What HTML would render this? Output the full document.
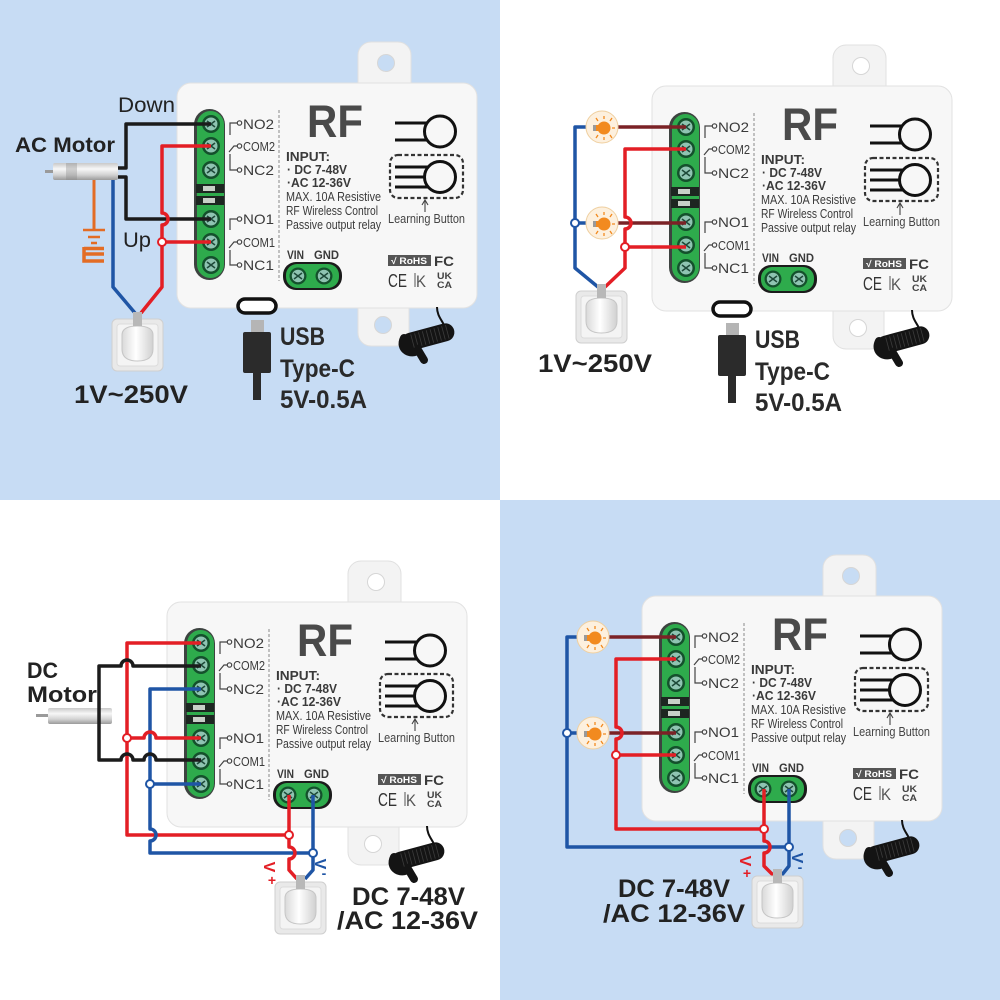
<!DOCTYPE html>
<html><head><meta charset="utf-8"><style>
html,body{margin:0;padding:0;background:#fff}
svg{display:block}
text{font-family:"Liberation Sans",sans-serif}
</style></head><body>
<svg width="1000" height="1000" viewBox="0 0 1000 1000" xmlns="http://www.w3.org/2000/svg">
<defs>
<linearGradient id="mg" x1="0" y1="0" x2="0" y2="1">
<stop offset="0" stop-color="#c9c9c9"/><stop offset=".35" stop-color="#f7f7f7"/><stop offset=".7" stop-color="#d2d2d2"/><stop offset="1" stop-color="#9a9a9a"/>
</linearGradient>
<linearGradient id="pg" x1="0" y1="0" x2="1" y2="0">
<stop offset="0" stop-color="#d9d9d9"/><stop offset=".45" stop-color="#ffffff"/><stop offset="1" stop-color="#d0d0d0"/>
</linearGradient>
</defs>
<rect x="0" y="0" width="500" height="500" fill="#c7dcf4"/>
<rect x="500" y="0" width="500" height="500" fill="#ffffff"/>
<rect x="0" y="500" width="500" height="500" fill="#ffffff"/>
<rect x="500" y="500" width="500" height="500" fill="#c7dcf4"/>

<!-- ============ MODULE Q1 ============ -->
<g color="#c7dcf4">
<rect x="358" y="42" width="53" height="60" rx="13" fill="#f3f3f3" stroke="#e0e0e0"/>
<circle cx="386" cy="63" r="8.5" fill="currentColor" stroke="#d6d6d6"/>
<rect x="358" y="290" width="51" height="56" rx="13" fill="#f3f3f3" stroke="#e0e0e0"/>
<circle cx="383" cy="325" r="8.5" fill="currentColor" stroke="#d6d6d6"/>
<rect x="177" y="83" width="300" height="225" rx="14" fill="#f7f7f7" stroke="#e2e2e2"/>
<rect x="194" y="109" width="31" height="171" rx="15.5" fill="#3d4340"/>
<rect x="197" y="111" width="27" height="167" rx="13.5" fill="#2eab4c"/>
<g transform="translate(211,124)"><circle r="9" fill="#14502c"/><circle r="6.5" fill="#8fc4b2"/><path d="M-4,-3 L4,3 M-4,3 L4,-3" stroke="#1f4a3a" stroke-width="1.6"/></g>
<g transform="translate(211,146)"><circle r="9" fill="#14502c"/><circle r="6.5" fill="#8fc4b2"/><path d="M-4,-3 L4,3 M-4,3 L4,-3" stroke="#1f4a3a" stroke-width="1.6"/></g>
<g transform="translate(211,170)"><circle r="9" fill="#14502c"/><circle r="6.5" fill="#8fc4b2"/><path d="M-4,-3 L4,3 M-4,3 L4,-3" stroke="#1f4a3a" stroke-width="1.6"/></g>
<g transform="translate(211,219)"><circle r="9" fill="#14502c"/><circle r="6.5" fill="#8fc4b2"/><path d="M-4,-3 L4,3 M-4,3 L4,-3" stroke="#1f4a3a" stroke-width="1.6"/></g>
<g transform="translate(211,242)"><circle r="9" fill="#14502c"/><circle r="6.5" fill="#8fc4b2"/><path d="M-4,-3 L4,3 M-4,3 L4,-3" stroke="#1f4a3a" stroke-width="1.6"/></g>
<g transform="translate(211,265)"><circle r="9" fill="#14502c"/><circle r="6.5" fill="#8fc4b2"/><path d="M-4,-3 L4,3 M-4,3 L4,-3" stroke="#1f4a3a" stroke-width="1.6"/></g>
<rect x="196" y="184" width="28" height="9" fill="#1d2621"/>
<rect x="196" y="196" width="28" height="9" fill="#1d2621"/>
<rect x="203" y="186" width="12" height="5" fill="#c8d0c8"/>
<rect x="203" y="198" width="12" height="5" fill="#c8d0c8"/>
<g stroke="#444" stroke-width="1.2" fill="none">
<path d="M230,135 V123 H237"/><circle cx="239.5" cy="123" r="2.2"/>
<path d="M237.3,146 H234 L229,152"/><circle cx="239.5" cy="146" r="2.2"/>
<path d="M230,154 V170 H237"/><circle cx="239.5" cy="170" r="2.2"/>
<path d="M230,230 V219 H237"/><circle cx="239.5" cy="219" r="2.2"/>
<path d="M237.3,242 H234 L229,248"/><circle cx="239.5" cy="242" r="2.2"/>
<path d="M230,250 V265 H237"/><circle cx="239.5" cy="265" r="2.2"/>
</g>
<g fill="#3a3a3a">
<text x="243" y="129" font-size="14" textLength="31" lengthAdjust="spacingAndGlyphs">NO2</text>
<text x="243" y="151" font-size="13" textLength="32" lengthAdjust="spacingAndGlyphs">COM2</text>
<text x="243" y="175" font-size="14" textLength="31" lengthAdjust="spacingAndGlyphs">NC2</text>
<text x="243" y="224" font-size="14" textLength="31" lengthAdjust="spacingAndGlyphs">NO1</text>
<text x="243" y="247" font-size="13" textLength="32" lengthAdjust="spacingAndGlyphs">COM1</text>
<text x="243" y="270" font-size="14" textLength="31" lengthAdjust="spacingAndGlyphs">NC1</text>
</g>
<path d="M279,110 V281" stroke="#888" stroke-width="1" stroke-dasharray="3 2"/>
<text x="307" y="137" font-size="45" font-weight="bold" fill="#4a4a4a" textLength="56" lengthAdjust="spacingAndGlyphs">RF</text>
<g fill="#3a3a3a">
<text x="286" y="161" font-size="13" font-weight="bold" textLength="44" lengthAdjust="spacingAndGlyphs">INPUT:</text>
<text x="287" y="174" font-size="13" font-weight="bold" textLength="60" lengthAdjust="spacingAndGlyphs">· DC 7-48V</text>
<text x="287" y="187" font-size="13" font-weight="bold" textLength="64" lengthAdjust="spacingAndGlyphs">·AC 12-36V</text>
<text x="286" y="201" font-size="12.5" textLength="95" lengthAdjust="spacingAndGlyphs">MAX. 10A  Resistive</text>
<text x="286" y="215" font-size="12.5" textLength="92" lengthAdjust="spacingAndGlyphs">RF Wireless Control</text>
<text x="286" y="229" font-size="12.5" textLength="95" lengthAdjust="spacingAndGlyphs">Passive output relay</text>
<text x="287" y="259" font-size="12" font-weight="bold" textLength="17" lengthAdjust="spacingAndGlyphs">VIN</text>
<text x="314" y="259" font-size="12" font-weight="bold" textLength="25" lengthAdjust="spacingAndGlyphs">GND</text>
</g>
<rect x="283" y="262" width="59" height="28" rx="13" fill="#1b1b1b"/>
<rect x="286" y="264" width="53" height="24" rx="11" fill="#2eab4c"/>
<g transform="translate(298,276)"><circle r="8.5" fill="#14502c"/><circle r="6.2" fill="#8fc4b2"/><path d="M-4,-3 L4,3 M-4,3 L4,-3" stroke="#1f4a3a" stroke-width="1.5"/></g>
<g transform="translate(324,276)"><circle r="8.5" fill="#14502c"/><circle r="6.2" fill="#8fc4b2"/><path d="M-4,-3 L4,3 M-4,3 L4,-3" stroke="#1f4a3a" stroke-width="1.5"/></g>
<g stroke="#111" stroke-width="3" fill="none">
<path d="M395,123 H427.5 M395,140 H427.5"/><circle cx="440" cy="131.5" r="15.5"/>
<path d="M395,167 H427.5 M395,177 H424.5 M395,187 H427.5"/><circle cx="440" cy="177" r="15.5"/>
</g>
<rect x="390" y="155" width="73" height="43" rx="8" fill="none" stroke="#333" stroke-width="2.2" stroke-dasharray="4 2.5"/>
<path d="M425,201 V212 M422,205 L425,200 L428,205" stroke="#444" stroke-width="1.1" fill="none"/>
<text x="388" y="223" font-size="12.5" fill="#444" textLength="77" lengthAdjust="spacingAndGlyphs">Learning Button</text>
<rect x="388" y="255" width="43" height="11" fill="#555"/>
<text x="391" y="264" font-size="9" font-weight="bold" fill="#fff" textLength="36" lengthAdjust="spacingAndGlyphs">√ RoHS</text>
<text x="434" y="266" font-size="14" font-weight="bold" fill="#3a3a3a" textLength="20" lengthAdjust="spacingAndGlyphs">FC</text>
<text x="388" y="287" font-size="18" fill="#333" textLength="19" lengthAdjust="spacingAndGlyphs">CE</text>
<text x="416" y="287" font-size="17" fill="#555" textLength="10" lengthAdjust="spacingAndGlyphs">K</text>
<path d="M415,273 V287" stroke="#555" stroke-width="1"/>
<text x="437" y="279" font-size="9.5" font-weight="bold" fill="#444" textLength="15" lengthAdjust="spacingAndGlyphs">UK</text>
<text x="437" y="288" font-size="9.5" font-weight="bold" fill="#444" textLength="15" lengthAdjust="spacingAndGlyphs">CA</text>
<path d="M437,307 C437,315 441,319 444,325" stroke="#111" stroke-width="2" fill="none"/>
<g transform="rotate(-15 428 337)">
<rect x="401" y="328" width="54" height="18" rx="9" fill="#141414"/>
<path d="M412,330 v14 M416,330 v14 M420,330 v14 M424,330 v14 M428,330 v14 M432,330 v14 M436,330 v14 M440,330 v14 M444,330 v14 M448,330 v14" stroke="#3c3c3c" stroke-width="0.8"/>
</g>
<path d="M404,338 C398,350 412,356 418,350 L424,360" stroke="#141414" stroke-width="8" fill="none" stroke-linecap="round"/>
</g>

<!-- ============ MODULE Q2 ============ -->
<g color="#ffffff" transform="translate(475,3)">
<rect x="358" y="42" width="53" height="60" rx="13" fill="#f3f3f3" stroke="#e0e0e0"/>
<circle cx="386" cy="63" r="8.5" fill="currentColor" stroke="#d6d6d6"/>
<rect x="358" y="290" width="51" height="56" rx="13" fill="#f3f3f3" stroke="#e0e0e0"/>
<circle cx="383" cy="325" r="8.5" fill="currentColor" stroke="#d6d6d6"/>
<rect x="177" y="83" width="300" height="225" rx="14" fill="#f7f7f7" stroke="#e2e2e2"/>
<rect x="194" y="109" width="31" height="171" rx="15.5" fill="#3d4340"/>
<rect x="197" y="111" width="27" height="167" rx="13.5" fill="#2eab4c"/>
<g transform="translate(211,124)"><circle r="9" fill="#14502c"/><circle r="6.5" fill="#8fc4b2"/><path d="M-4,-3 L4,3 M-4,3 L4,-3" stroke="#1f4a3a" stroke-width="1.6"/></g>
<g transform="translate(211,146)"><circle r="9" fill="#14502c"/><circle r="6.5" fill="#8fc4b2"/><path d="M-4,-3 L4,3 M-4,3 L4,-3" stroke="#1f4a3a" stroke-width="1.6"/></g>
<g transform="translate(211,170)"><circle r="9" fill="#14502c"/><circle r="6.5" fill="#8fc4b2"/><path d="M-4,-3 L4,3 M-4,3 L4,-3" stroke="#1f4a3a" stroke-width="1.6"/></g>
<g transform="translate(211,219)"><circle r="9" fill="#14502c"/><circle r="6.5" fill="#8fc4b2"/><path d="M-4,-3 L4,3 M-4,3 L4,-3" stroke="#1f4a3a" stroke-width="1.6"/></g>
<g transform="translate(211,242)"><circle r="9" fill="#14502c"/><circle r="6.5" fill="#8fc4b2"/><path d="M-4,-3 L4,3 M-4,3 L4,-3" stroke="#1f4a3a" stroke-width="1.6"/></g>
<g transform="translate(211,265)"><circle r="9" fill="#14502c"/><circle r="6.5" fill="#8fc4b2"/><path d="M-4,-3 L4,3 M-4,3 L4,-3" stroke="#1f4a3a" stroke-width="1.6"/></g>
<rect x="196" y="184" width="28" height="9" fill="#1d2621"/>
<rect x="196" y="196" width="28" height="9" fill="#1d2621"/>
<rect x="203" y="186" width="12" height="5" fill="#c8d0c8"/>
<rect x="203" y="198" width="12" height="5" fill="#c8d0c8"/>
<g stroke="#444" stroke-width="1.2" fill="none">
<path d="M230,135 V123 H237"/><circle cx="239.5" cy="123" r="2.2"/>
<path d="M237.3,146 H234 L229,152"/><circle cx="239.5" cy="146" r="2.2"/>
<path d="M230,154 V170 H237"/><circle cx="239.5" cy="170" r="2.2"/>
<path d="M230,230 V219 H237"/><circle cx="239.5" cy="219" r="2.2"/>
<path d="M237.3,242 H234 L229,248"/><circle cx="239.5" cy="242" r="2.2"/>
<path d="M230,250 V265 H237"/><circle cx="239.5" cy="265" r="2.2"/>
</g>
<g fill="#3a3a3a">
<text x="243" y="129" font-size="14" textLength="31" lengthAdjust="spacingAndGlyphs">NO2</text>
<text x="243" y="151" font-size="13" textLength="32" lengthAdjust="spacingAndGlyphs">COM2</text>
<text x="243" y="175" font-size="14" textLength="31" lengthAdjust="spacingAndGlyphs">NC2</text>
<text x="243" y="224" font-size="14" textLength="31" lengthAdjust="spacingAndGlyphs">NO1</text>
<text x="243" y="247" font-size="13" textLength="32" lengthAdjust="spacingAndGlyphs">COM1</text>
<text x="243" y="270" font-size="14" textLength="31" lengthAdjust="spacingAndGlyphs">NC1</text>
</g>
<path d="M279,110 V281" stroke="#888" stroke-width="1" stroke-dasharray="3 2"/>
<text x="307" y="137" font-size="45" font-weight="bold" fill="#4a4a4a" textLength="56" lengthAdjust="spacingAndGlyphs">RF</text>
<g fill="#3a3a3a">
<text x="286" y="161" font-size="13" font-weight="bold" textLength="44" lengthAdjust="spacingAndGlyphs">INPUT:</text>
<text x="287" y="174" font-size="13" font-weight="bold" textLength="60" lengthAdjust="spacingAndGlyphs">· DC 7-48V</text>
<text x="287" y="187" font-size="13" font-weight="bold" textLength="64" lengthAdjust="spacingAndGlyphs">·AC 12-36V</text>
<text x="286" y="201" font-size="12.5" textLength="95" lengthAdjust="spacingAndGlyphs">MAX. 10A  Resistive</text>
<text x="286" y="215" font-size="12.5" textLength="92" lengthAdjust="spacingAndGlyphs">RF Wireless Control</text>
<text x="286" y="229" font-size="12.5" textLength="95" lengthAdjust="spacingAndGlyphs">Passive output relay</text>
<text x="287" y="259" font-size="12" font-weight="bold" textLength="17" lengthAdjust="spacingAndGlyphs">VIN</text>
<text x="314" y="259" font-size="12" font-weight="bold" textLength="25" lengthAdjust="spacingAndGlyphs">GND</text>
</g>
<rect x="283" y="262" width="59" height="28" rx="13" fill="#1b1b1b"/>
<rect x="286" y="264" width="53" height="24" rx="11" fill="#2eab4c"/>
<g transform="translate(298,276)"><circle r="8.5" fill="#14502c"/><circle r="6.2" fill="#8fc4b2"/><path d="M-4,-3 L4,3 M-4,3 L4,-3" stroke="#1f4a3a" stroke-width="1.5"/></g>
<g transform="translate(324,276)"><circle r="8.5" fill="#14502c"/><circle r="6.2" fill="#8fc4b2"/><path d="M-4,-3 L4,3 M-4,3 L4,-3" stroke="#1f4a3a" stroke-width="1.5"/></g>
<g stroke="#111" stroke-width="3" fill="none">
<path d="M395,123 H427.5 M395,140 H427.5"/><circle cx="440" cy="131.5" r="15.5"/>
<path d="M395,167 H427.5 M395,177 H424.5 M395,187 H427.5"/><circle cx="440" cy="177" r="15.5"/>
</g>
<rect x="390" y="155" width="73" height="43" rx="8" fill="none" stroke="#333" stroke-width="2.2" stroke-dasharray="4 2.5"/>
<path d="M425,201 V212 M422,205 L425,200 L428,205" stroke="#444" stroke-width="1.1" fill="none"/>
<text x="388" y="223" font-size="12.5" fill="#444" textLength="77" lengthAdjust="spacingAndGlyphs">Learning Button</text>
<rect x="388" y="255" width="43" height="11" fill="#555"/>
<text x="391" y="264" font-size="9" font-weight="bold" fill="#fff" textLength="36" lengthAdjust="spacingAndGlyphs">√ RoHS</text>
<text x="434" y="266" font-size="14" font-weight="bold" fill="#3a3a3a" textLength="20" lengthAdjust="spacingAndGlyphs">FC</text>
<text x="388" y="287" font-size="18" fill="#333" textLength="19" lengthAdjust="spacingAndGlyphs">CE</text>
<text x="416" y="287" font-size="17" fill="#555" textLength="10" lengthAdjust="spacingAndGlyphs">K</text>
<path d="M415,273 V287" stroke="#555" stroke-width="1"/>
<text x="437" y="279" font-size="9.5" font-weight="bold" fill="#444" textLength="15" lengthAdjust="spacingAndGlyphs">UK</text>
<text x="437" y="288" font-size="9.5" font-weight="bold" fill="#444" textLength="15" lengthAdjust="spacingAndGlyphs">CA</text>
<path d="M437,307 C437,315 441,319 444,325" stroke="#111" stroke-width="2" fill="none"/>
<g transform="rotate(-15 428 337)">
<rect x="401" y="328" width="54" height="18" rx="9" fill="#141414"/>
<path d="M412,330 v14 M416,330 v14 M420,330 v14 M424,330 v14 M428,330 v14 M432,330 v14 M436,330 v14 M440,330 v14 M444,330 v14 M448,330 v14" stroke="#3c3c3c" stroke-width="0.8"/>
</g>
<path d="M404,338 C398,350 412,356 418,350 L424,360" stroke="#141414" stroke-width="8" fill="none" stroke-linecap="round"/>
</g>

<!-- ============ MODULE Q3 ============ -->
<g color="#ffffff" transform="translate(-10,519)">
<rect x="358" y="42" width="53" height="60" rx="13" fill="#f3f3f3" stroke="#e0e0e0"/>
<circle cx="386" cy="63" r="8.5" fill="currentColor" stroke="#d6d6d6"/>
<rect x="358" y="290" width="51" height="56" rx="13" fill="#f3f3f3" stroke="#e0e0e0"/>
<circle cx="383" cy="325" r="8.5" fill="currentColor" stroke="#d6d6d6"/>
<rect x="177" y="83" width="300" height="225" rx="14" fill="#f7f7f7" stroke="#e2e2e2"/>
<rect x="194" y="109" width="31" height="171" rx="15.5" fill="#3d4340"/>
<rect x="197" y="111" width="27" height="167" rx="13.5" fill="#2eab4c"/>
<g transform="translate(211,124)"><circle r="9" fill="#14502c"/><circle r="6.5" fill="#8fc4b2"/><path d="M-4,-3 L4,3 M-4,3 L4,-3" stroke="#1f4a3a" stroke-width="1.6"/></g>
<g transform="translate(211,146)"><circle r="9" fill="#14502c"/><circle r="6.5" fill="#8fc4b2"/><path d="M-4,-3 L4,3 M-4,3 L4,-3" stroke="#1f4a3a" stroke-width="1.6"/></g>
<g transform="translate(211,170)"><circle r="9" fill="#14502c"/><circle r="6.5" fill="#8fc4b2"/><path d="M-4,-3 L4,3 M-4,3 L4,-3" stroke="#1f4a3a" stroke-width="1.6"/></g>
<g transform="translate(211,219)"><circle r="9" fill="#14502c"/><circle r="6.5" fill="#8fc4b2"/><path d="M-4,-3 L4,3 M-4,3 L4,-3" stroke="#1f4a3a" stroke-width="1.6"/></g>
<g transform="translate(211,242)"><circle r="9" fill="#14502c"/><circle r="6.5" fill="#8fc4b2"/><path d="M-4,-3 L4,3 M-4,3 L4,-3" stroke="#1f4a3a" stroke-width="1.6"/></g>
<g transform="translate(211,265)"><circle r="9" fill="#14502c"/><circle r="6.5" fill="#8fc4b2"/><path d="M-4,-3 L4,3 M-4,3 L4,-3" stroke="#1f4a3a" stroke-width="1.6"/></g>
<rect x="196" y="184" width="28" height="9" fill="#1d2621"/>
<rect x="196" y="196" width="28" height="9" fill="#1d2621"/>
<rect x="203" y="186" width="12" height="5" fill="#c8d0c8"/>
<rect x="203" y="198" width="12" height="5" fill="#c8d0c8"/>
<g stroke="#444" stroke-width="1.2" fill="none">
<path d="M230,135 V123 H237"/><circle cx="239.5" cy="123" r="2.2"/>
<path d="M237.3,146 H234 L229,152"/><circle cx="239.5" cy="146" r="2.2"/>
<path d="M230,154 V170 H237"/><circle cx="239.5" cy="170" r="2.2"/>
<path d="M230,230 V219 H237"/><circle cx="239.5" cy="219" r="2.2"/>
<path d="M237.3,242 H234 L229,248"/><circle cx="239.5" cy="242" r="2.2"/>
<path d="M230,250 V265 H237"/><circle cx="239.5" cy="265" r="2.2"/>
</g>
<g fill="#3a3a3a">
<text x="243" y="129" font-size="14" textLength="31" lengthAdjust="spacingAndGlyphs">NO2</text>
<text x="243" y="151" font-size="13" textLength="32" lengthAdjust="spacingAndGlyphs">COM2</text>
<text x="243" y="175" font-size="14" textLength="31" lengthAdjust="spacingAndGlyphs">NC2</text>
<text x="243" y="224" font-size="14" textLength="31" lengthAdjust="spacingAndGlyphs">NO1</text>
<text x="243" y="247" font-size="13" textLength="32" lengthAdjust="spacingAndGlyphs">COM1</text>
<text x="243" y="270" font-size="14" textLength="31" lengthAdjust="spacingAndGlyphs">NC1</text>
</g>
<path d="M279,110 V281" stroke="#888" stroke-width="1" stroke-dasharray="3 2"/>
<text x="307" y="137" font-size="45" font-weight="bold" fill="#4a4a4a" textLength="56" lengthAdjust="spacingAndGlyphs">RF</text>
<g fill="#3a3a3a">
<text x="286" y="161" font-size="13" font-weight="bold" textLength="44" lengthAdjust="spacingAndGlyphs">INPUT:</text>
<text x="287" y="174" font-size="13" font-weight="bold" textLength="60" lengthAdjust="spacingAndGlyphs">· DC 7-48V</text>
<text x="287" y="187" font-size="13" font-weight="bold" textLength="64" lengthAdjust="spacingAndGlyphs">·AC 12-36V</text>
<text x="286" y="201" font-size="12.5" textLength="95" lengthAdjust="spacingAndGlyphs">MAX. 10A  Resistive</text>
<text x="286" y="215" font-size="12.5" textLength="92" lengthAdjust="spacingAndGlyphs">RF Wireless Control</text>
<text x="286" y="229" font-size="12.5" textLength="95" lengthAdjust="spacingAndGlyphs">Passive output relay</text>
<text x="287" y="259" font-size="12" font-weight="bold" textLength="17" lengthAdjust="spacingAndGlyphs">VIN</text>
<text x="314" y="259" font-size="12" font-weight="bold" textLength="25" lengthAdjust="spacingAndGlyphs">GND</text>
</g>
<rect x="283" y="262" width="59" height="28" rx="13" fill="#1b1b1b"/>
<rect x="286" y="264" width="53" height="24" rx="11" fill="#2eab4c"/>
<g transform="translate(298,276)"><circle r="8.5" fill="#14502c"/><circle r="6.2" fill="#8fc4b2"/><path d="M-4,-3 L4,3 M-4,3 L4,-3" stroke="#1f4a3a" stroke-width="1.5"/></g>
<g transform="translate(324,276)"><circle r="8.5" fill="#14502c"/><circle r="6.2" fill="#8fc4b2"/><path d="M-4,-3 L4,3 M-4,3 L4,-3" stroke="#1f4a3a" stroke-width="1.5"/></g>
<g stroke="#111" stroke-width="3" fill="none">
<path d="M395,123 H427.5 M395,140 H427.5"/><circle cx="440" cy="131.5" r="15.5"/>
<path d="M395,167 H427.5 M395,177 H424.5 M395,187 H427.5"/><circle cx="440" cy="177" r="15.5"/>
</g>
<rect x="390" y="155" width="73" height="43" rx="8" fill="none" stroke="#333" stroke-width="2.2" stroke-dasharray="4 2.5"/>
<path d="M425,201 V212 M422,205 L425,200 L428,205" stroke="#444" stroke-width="1.1" fill="none"/>
<text x="388" y="223" font-size="12.5" fill="#444" textLength="77" lengthAdjust="spacingAndGlyphs">Learning Button</text>
<rect x="388" y="255" width="43" height="11" fill="#555"/>
<text x="391" y="264" font-size="9" font-weight="bold" fill="#fff" textLength="36" lengthAdjust="spacingAndGlyphs">√ RoHS</text>
<text x="434" y="266" font-size="14" font-weight="bold" fill="#3a3a3a" textLength="20" lengthAdjust="spacingAndGlyphs">FC</text>
<text x="388" y="287" font-size="18" fill="#333" textLength="19" lengthAdjust="spacingAndGlyphs">CE</text>
<text x="416" y="287" font-size="17" fill="#555" textLength="10" lengthAdjust="spacingAndGlyphs">K</text>
<path d="M415,273 V287" stroke="#555" stroke-width="1"/>
<text x="437" y="279" font-size="9.5" font-weight="bold" fill="#444" textLength="15" lengthAdjust="spacingAndGlyphs">UK</text>
<text x="437" y="288" font-size="9.5" font-weight="bold" fill="#444" textLength="15" lengthAdjust="spacingAndGlyphs">CA</text>
<path d="M437,307 C437,315 441,319 444,325" stroke="#111" stroke-width="2" fill="none"/>
<g transform="rotate(-15 428 337)">
<rect x="401" y="328" width="54" height="18" rx="9" fill="#141414"/>
<path d="M412,330 v14 M416,330 v14 M420,330 v14 M424,330 v14 M428,330 v14 M432,330 v14 M436,330 v14 M440,330 v14 M444,330 v14 M448,330 v14" stroke="#3c3c3c" stroke-width="0.8"/>
</g>
<path d="M404,338 C398,350 412,356 418,350 L424,360" stroke="#141414" stroke-width="8" fill="none" stroke-linecap="round"/>
</g>

<!-- ============ MODULE Q4 ============ -->
<g color="#c7dcf4" transform="translate(465,513)">
<rect x="358" y="42" width="53" height="60" rx="13" fill="#f3f3f3" stroke="#e0e0e0"/>
<circle cx="386" cy="63" r="8.5" fill="currentColor" stroke="#d6d6d6"/>
<rect x="358" y="290" width="51" height="56" rx="13" fill="#f3f3f3" stroke="#e0e0e0"/>
<circle cx="383" cy="325" r="8.5" fill="currentColor" stroke="#d6d6d6"/>
<rect x="177" y="83" width="300" height="225" rx="14" fill="#f7f7f7" stroke="#e2e2e2"/>
<rect x="194" y="109" width="31" height="171" rx="15.5" fill="#3d4340"/>
<rect x="197" y="111" width="27" height="167" rx="13.5" fill="#2eab4c"/>
<g transform="translate(211,124)"><circle r="9" fill="#14502c"/><circle r="6.5" fill="#8fc4b2"/><path d="M-4,-3 L4,3 M-4,3 L4,-3" stroke="#1f4a3a" stroke-width="1.6"/></g>
<g transform="translate(211,146)"><circle r="9" fill="#14502c"/><circle r="6.5" fill="#8fc4b2"/><path d="M-4,-3 L4,3 M-4,3 L4,-3" stroke="#1f4a3a" stroke-width="1.6"/></g>
<g transform="translate(211,170)"><circle r="9" fill="#14502c"/><circle r="6.5" fill="#8fc4b2"/><path d="M-4,-3 L4,3 M-4,3 L4,-3" stroke="#1f4a3a" stroke-width="1.6"/></g>
<g transform="translate(211,219)"><circle r="9" fill="#14502c"/><circle r="6.5" fill="#8fc4b2"/><path d="M-4,-3 L4,3 M-4,3 L4,-3" stroke="#1f4a3a" stroke-width="1.6"/></g>
<g transform="translate(211,242)"><circle r="9" fill="#14502c"/><circle r="6.5" fill="#8fc4b2"/><path d="M-4,-3 L4,3 M-4,3 L4,-3" stroke="#1f4a3a" stroke-width="1.6"/></g>
<g transform="translate(211,265)"><circle r="9" fill="#14502c"/><circle r="6.5" fill="#8fc4b2"/><path d="M-4,-3 L4,3 M-4,3 L4,-3" stroke="#1f4a3a" stroke-width="1.6"/></g>
<rect x="196" y="184" width="28" height="9" fill="#1d2621"/>
<rect x="196" y="196" width="28" height="9" fill="#1d2621"/>
<rect x="203" y="186" width="12" height="5" fill="#c8d0c8"/>
<rect x="203" y="198" width="12" height="5" fill="#c8d0c8"/>
<g stroke="#444" stroke-width="1.2" fill="none">
<path d="M230,135 V123 H237"/><circle cx="239.5" cy="123" r="2.2"/>
<path d="M237.3,146 H234 L229,152"/><circle cx="239.5" cy="146" r="2.2"/>
<path d="M230,154 V170 H237"/><circle cx="239.5" cy="170" r="2.2"/>
<path d="M230,230 V219 H237"/><circle cx="239.5" cy="219" r="2.2"/>
<path d="M237.3,242 H234 L229,248"/><circle cx="239.5" cy="242" r="2.2"/>
<path d="M230,250 V265 H237"/><circle cx="239.5" cy="265" r="2.2"/>
</g>
<g fill="#3a3a3a">
<text x="243" y="129" font-size="14" textLength="31" lengthAdjust="spacingAndGlyphs">NO2</text>
<text x="243" y="151" font-size="13" textLength="32" lengthAdjust="spacingAndGlyphs">COM2</text>
<text x="243" y="175" font-size="14" textLength="31" lengthAdjust="spacingAndGlyphs">NC2</text>
<text x="243" y="224" font-size="14" textLength="31" lengthAdjust="spacingAndGlyphs">NO1</text>
<text x="243" y="247" font-size="13" textLength="32" lengthAdjust="spacingAndGlyphs">COM1</text>
<text x="243" y="270" font-size="14" textLength="31" lengthAdjust="spacingAndGlyphs">NC1</text>
</g>
<path d="M279,110 V281" stroke="#888" stroke-width="1" stroke-dasharray="3 2"/>
<text x="307" y="137" font-size="45" font-weight="bold" fill="#4a4a4a" textLength="56" lengthAdjust="spacingAndGlyphs">RF</text>
<g fill="#3a3a3a">
<text x="286" y="161" font-size="13" font-weight="bold" textLength="44" lengthAdjust="spacingAndGlyphs">INPUT:</text>
<text x="287" y="174" font-size="13" font-weight="bold" textLength="60" lengthAdjust="spacingAndGlyphs">· DC 7-48V</text>
<text x="287" y="187" font-size="13" font-weight="bold" textLength="64" lengthAdjust="spacingAndGlyphs">·AC 12-36V</text>
<text x="286" y="201" font-size="12.5" textLength="95" lengthAdjust="spacingAndGlyphs">MAX. 10A  Resistive</text>
<text x="286" y="215" font-size="12.5" textLength="92" lengthAdjust="spacingAndGlyphs">RF Wireless Control</text>
<text x="286" y="229" font-size="12.5" textLength="95" lengthAdjust="spacingAndGlyphs">Passive output relay</text>
<text x="287" y="259" font-size="12" font-weight="bold" textLength="17" lengthAdjust="spacingAndGlyphs">VIN</text>
<text x="314" y="259" font-size="12" font-weight="bold" textLength="25" lengthAdjust="spacingAndGlyphs">GND</text>
</g>
<rect x="283" y="262" width="59" height="28" rx="13" fill="#1b1b1b"/>
<rect x="286" y="264" width="53" height="24" rx="11" fill="#2eab4c"/>
<g transform="translate(298,276)"><circle r="8.5" fill="#14502c"/><circle r="6.2" fill="#8fc4b2"/><path d="M-4,-3 L4,3 M-4,3 L4,-3" stroke="#1f4a3a" stroke-width="1.5"/></g>
<g transform="translate(324,276)"><circle r="8.5" fill="#14502c"/><circle r="6.2" fill="#8fc4b2"/><path d="M-4,-3 L4,3 M-4,3 L4,-3" stroke="#1f4a3a" stroke-width="1.5"/></g>
<g stroke="#111" stroke-width="3" fill="none">
<path d="M395,123 H427.5 M395,140 H427.5"/><circle cx="440" cy="131.5" r="15.5"/>
<path d="M395,167 H427.5 M395,177 H424.5 M395,187 H427.5"/><circle cx="440" cy="177" r="15.5"/>
</g>
<rect x="390" y="155" width="73" height="43" rx="8" fill="none" stroke="#333" stroke-width="2.2" stroke-dasharray="4 2.5"/>
<path d="M425,201 V212 M422,205 L425,200 L428,205" stroke="#444" stroke-width="1.1" fill="none"/>
<text x="388" y="223" font-size="12.5" fill="#444" textLength="77" lengthAdjust="spacingAndGlyphs">Learning Button</text>
<rect x="388" y="255" width="43" height="11" fill="#555"/>
<text x="391" y="264" font-size="9" font-weight="bold" fill="#fff" textLength="36" lengthAdjust="spacingAndGlyphs">√ RoHS</text>
<text x="434" y="266" font-size="14" font-weight="bold" fill="#3a3a3a" textLength="20" lengthAdjust="spacingAndGlyphs">FC</text>
<text x="388" y="287" font-size="18" fill="#333" textLength="19" lengthAdjust="spacingAndGlyphs">CE</text>
<text x="416" y="287" font-size="17" fill="#555" textLength="10" lengthAdjust="spacingAndGlyphs">K</text>
<path d="M415,273 V287" stroke="#555" stroke-width="1"/>
<text x="437" y="279" font-size="9.5" font-weight="bold" fill="#444" textLength="15" lengthAdjust="spacingAndGlyphs">UK</text>
<text x="437" y="288" font-size="9.5" font-weight="bold" fill="#444" textLength="15" lengthAdjust="spacingAndGlyphs">CA</text>
<path d="M437,307 C437,315 441,319 444,325" stroke="#111" stroke-width="2" fill="none"/>
<g transform="rotate(-15 428 337)">
<rect x="401" y="328" width="54" height="18" rx="9" fill="#141414"/>
<path d="M412,330 v14 M416,330 v14 M420,330 v14 M424,330 v14 M428,330 v14 M432,330 v14 M436,330 v14 M440,330 v14 M444,330 v14 M448,330 v14" stroke="#3c3c3c" stroke-width="0.8"/>
</g>
<path d="M404,338 C398,350 412,356 418,350 L424,360" stroke="#141414" stroke-width="8" fill="none" stroke-linecap="round"/>
</g>

<!-- ============ USB Q1 & Q2 ============ -->
<g>
<rect x="238" y="299" width="38" height="14" rx="7" fill="#fff" stroke="#111" stroke-width="3.5"/>
<rect x="251" y="320" width="13" height="12" fill="#b5b5b5"/>
<rect x="243" y="332" width="28" height="41" rx="2" fill="#2b2b2b"/>
<rect x="253" y="372" width="8" height="28" fill="#2b2b2b"/>
<g fill="#2a2a2a" font-weight="bold" font-size="25">
<text x="280" y="345" textLength="45" lengthAdjust="spacingAndGlyphs">USB</text>
<text x="280" y="377" textLength="75" lengthAdjust="spacingAndGlyphs">Type-C</text>
<text x="280" y="408" textLength="87" lengthAdjust="spacingAndGlyphs">5V-0.5A</text>
</g>
</g>
<g transform="translate(475,3)">
<rect x="238" y="299" width="38" height="14" rx="7" fill="#fff" stroke="#111" stroke-width="3.5"/>
<rect x="251" y="320" width="13" height="12" fill="#b5b5b5"/>
<rect x="243" y="332" width="28" height="41" rx="2" fill="#2b2b2b"/>
<rect x="253" y="372" width="8" height="28" fill="#2b2b2b"/>
<g fill="#2a2a2a" font-weight="bold" font-size="25">
<text x="280" y="345" textLength="45" lengthAdjust="spacingAndGlyphs">USB</text>
<text x="280" y="377" textLength="75" lengthAdjust="spacingAndGlyphs">Type-C</text>
<text x="280" y="408" textLength="87" lengthAdjust="spacingAndGlyphs">5V-0.5A</text>
</g>
</g>

<!-- ============ Q1 WIRING ============ -->
<text x="118" y="112" font-size="21" fill="#222" textLength="57" lengthAdjust="spacingAndGlyphs">Down</text>
<text x="123" y="247" font-size="21" fill="#222" textLength="28" lengthAdjust="spacingAndGlyphs">Up</text>
<text x="15" y="152" font-size="21" font-weight="bold" fill="#222" textLength="100" lengthAdjust="spacingAndGlyphs">AC Motor</text>
<rect x="45" y="170" width="9" height="3" fill="#9a9a9a"/>
<rect x="53" y="163" width="65" height="17" rx="2" fill="url(#mg)"/>
<rect x="66" y="163" width="11" height="17" fill="#888" opacity=".35"/>
<g stroke="#e36c24" fill="none" stroke-width="3">
<path d="M94,180 V230"/>
<path d="M83,230 H105 M88,237 H100 M91,243 H97" stroke-width="2.5"/>
</g>
<path d="M84,247 V261 H104 M84,248.5 H104 M84,254 H104" stroke="#e36c24" stroke-width="3.5" fill="none"/>
<g fill="none" stroke-width="3.5" stroke-linejoin="round">
<path d="M118,168 H126 V124 H211" stroke="#1b1b1b"/>
<path d="M118,177 H126 V219 H211" stroke="#1b1b1b"/>
<path d="M113,180 V287 L135,313" stroke="#1f55a5"/>
<path d="M211,146 H162 V213 A6,6 0 0 1 162,225 V287 L141,313" stroke="#e31e25"/>
<path d="M211,242 H162" stroke="#e31e25"/>
</g>
<circle cx="162" cy="242" r="4" fill="#fff" stroke="#e31e25" stroke-width="2"/>
<g transform="translate(112,319)">
<rect x="0" y="0" width="51" height="52" rx="5" fill="#e9e9e9" stroke="#cfcfcf"/>
<rect x="5" y="5" width="41" height="42" rx="3" fill="#f4f4f4" stroke="#dcdcdc"/>
<path d="M10,16 Q10,7 25.5,7 Q41,7 41,16 V30 Q41,42 25.5,42 Q10,42 10,30 Z" fill="url(#pg)" stroke="#c6c6c6"/>
<rect x="21" y="-7" width="9" height="14" fill="#b8b8b8"/>
</g>
<text x="74" y="403" font-size="25" font-weight="bold" fill="#222" textLength="114" lengthAdjust="spacingAndGlyphs">1V~250V</text>

<!-- ============ Q2 WIRING ============ -->
<g fill="none" stroke-width="3.5" stroke-linejoin="round">
<path d="M586,127 H575 V268 L598,287" stroke="#1f55a5"/>
<path d="M575,223 H586" stroke="#1f55a5"/>
<path d="M618,127 H686" stroke="#7b2226"/>
<path d="M618,223 H686" stroke="#7b2226"/>
<path d="M686,149 H625 V217 A6,6 0 0 1 625,229 V268 L605,287" stroke="#e31e25"/>
<path d="M625,247 H686" stroke="#e31e25"/>
</g>
<circle cx="575" cy="223" r="4" fill="#fff" stroke="#1f55a5" stroke-width="2"/>
<circle cx="625" cy="247" r="4" fill="#fff" stroke="#e31e25" stroke-width="2"/>
<g transform="translate(602,127)">
<circle r="16" fill="#fdf0de" stroke="#efcf9f"/>
<circle cx="2" cy="1" r="6.5" fill="#f28a1f"/><rect x="-6" y="-2" width="4" height="6" fill="#f28a1f"/><rect x="-9" y="-2" width="3" height="6" fill="#9a9a9a"/>
<path d="M2,-8 V-11 M-4,-6 L-6,-9 M8,-6 L10,-9 M10,1 H13 M8,8 L10,11 M2,10 V13 M-4,8 L-6,11" stroke="#f28a1f" stroke-width="1.3"/>
</g>
<g transform="translate(602,223)">
<circle r="16" fill="#fdf0de" stroke="#efcf9f"/>
<circle cx="2" cy="1" r="6.5" fill="#f28a1f"/><rect x="-6" y="-2" width="4" height="6" fill="#f28a1f"/><rect x="-9" y="-2" width="3" height="6" fill="#9a9a9a"/>
<path d="M2,-8 V-11 M-4,-6 L-6,-9 M8,-6 L10,-9 M10,1 H13 M8,8 L10,11 M2,10 V13 M-4,8 L-6,11" stroke="#f28a1f" stroke-width="1.3"/>
</g>
<g transform="translate(576,291)">
<rect x="0" y="0" width="51" height="52" rx="5" fill="#e9e9e9" stroke="#cfcfcf"/>
<rect x="5" y="5" width="41" height="42" rx="3" fill="#f4f4f4" stroke="#dcdcdc"/>
<path d="M10,16 Q10,7 25.5,7 Q41,7 41,16 V30 Q41,42 25.5,42 Q10,42 10,30 Z" fill="url(#pg)" stroke="#c6c6c6"/>
<rect x="21" y="-7" width="9" height="14" fill="#b8b8b8"/>
</g>
<text x="538" y="372" font-size="25" font-weight="bold" fill="#222" textLength="114" lengthAdjust="spacingAndGlyphs">1V~250V</text>

<!-- ============ Q3 WIRING ============ -->
<text x="27" y="678" font-size="22" font-weight="bold" fill="#222" textLength="31" lengthAdjust="spacingAndGlyphs">DC</text>
<text x="27" y="702" font-size="22" font-weight="bold" fill="#222" textLength="70" lengthAdjust="spacingAndGlyphs">Motor</text>
<rect x="36" y="714" width="13" height="3" fill="#9a9a9a"/>
<rect x="48" y="708" width="64" height="16" rx="2" fill="url(#mg)"/>
<g fill="none" stroke-width="3.5" stroke-linejoin="round">
<path d="M201,643 H127 V835 H289" stroke="#e31e25"/>
<path d="M201,689 H150 V829 A6,6 0 0 1 150,841 V853 H313" stroke="#1f55a5"/>
<path d="M150,784 H201" stroke="#1f55a5"/>
<path d="M127,738 H144 A6,6 0 0 1 156,738 H201" stroke="#e31e25"/>
<path d="M201,666 H133 A6,6 0 0 0 121,666 H99 V760 H121 A6,6 0 0 1 133,760 H144 A6,6 0 0 1 156,760 H201" stroke="#1b1b1b"/>
<path d="M289,795 V847 A6,6 0 0 1 289,859 V870 L297,879" stroke="#e31e25"/>
<path d="M313,795 V870 L305,879" stroke="#1f55a5"/>
</g>
<circle cx="127" cy="738" r="4" fill="#fff" stroke="#e31e25" stroke-width="2"/>
<circle cx="150" cy="784" r="4" fill="#fff" stroke="#1f55a5" stroke-width="2"/>
<circle cx="289" cy="835" r="4" fill="#fff" stroke="#e31e25" stroke-width="2"/>
<circle cx="313" cy="853" r="4" fill="#fff" stroke="#1f55a5" stroke-width="2"/>
<text x="0" y="0" font-size="16" font-weight="bold" fill="#e31e25" transform="translate(270,867) rotate(90)" text-anchor="middle" dy="6">V</text>
<text x="272" y="885" font-size="14" font-weight="bold" fill="#e31e25" text-anchor="middle">+</text>
<text x="0" y="0" font-size="16" font-weight="bold" fill="#1f55a5" transform="translate(321,864) rotate(90)" text-anchor="middle" dy="6">V</text>
<text x="324" y="878" font-size="14" font-weight="bold" fill="#1f55a5" text-anchor="middle">-</text>
<g transform="translate(275,882)">
<rect x="0" y="0" width="51" height="52" rx="5" fill="#e9e9e9" stroke="#cfcfcf"/>
<rect x="5" y="5" width="41" height="42" rx="3" fill="#f4f4f4" stroke="#dcdcdc"/>
<path d="M10,16 Q10,7 25.5,7 Q41,7 41,16 V30 Q41,42 25.5,42 Q10,42 10,30 Z" fill="url(#pg)" stroke="#c6c6c6"/>
<rect x="21" y="-7" width="9" height="14" fill="#b8b8b8"/>
</g>
<text x="352" y="905" font-size="25" font-weight="bold" fill="#222" textLength="113" lengthAdjust="spacingAndGlyphs">DC 7-48V</text>
<text x="337" y="929" font-size="25" font-weight="bold" fill="#222" textLength="141" lengthAdjust="spacingAndGlyphs">/AC 12-36V</text>

<!-- ============ Q4 WIRING ============ -->
<g fill="none" stroke-width="3.5" stroke-linejoin="round">
<path d="M577,637 H567 V847 H789" stroke="#1f55a5"/>
<path d="M567,733 H577" stroke="#1f55a5"/>
<path d="M609,637 H676" stroke="#7b2226"/>
<path d="M609,733 H676" stroke="#7b2226"/>
<path d="M676,659 H616 V727 A6,6 0 0 1 616,739 V829 H765" stroke="#e31e25"/>
<path d="M616,755 H676" stroke="#e31e25"/>
<path d="M764,789 V841 A6,6 0 0 1 764,853 V866 L774,876" stroke="#e31e25"/>
<path d="M789,789 V866 L781,876" stroke="#1f55a5"/>
</g>
<circle cx="567" cy="733" r="4" fill="#fff" stroke="#1f55a5" stroke-width="2"/>
<circle cx="616" cy="755" r="4" fill="#fff" stroke="#e31e25" stroke-width="2"/>
<circle cx="764" cy="829" r="4" fill="#fff" stroke="#e31e25" stroke-width="2"/>
<circle cx="789" cy="847" r="4" fill="#fff" stroke="#1f55a5" stroke-width="2"/>
<g transform="translate(593,637)">
<circle r="16" fill="#fdf0de" stroke="#efcf9f"/>
<circle cx="2" cy="1" r="6.5" fill="#f28a1f"/><rect x="-6" y="-2" width="4" height="6" fill="#f28a1f"/><rect x="-9" y="-2" width="3" height="6" fill="#9a9a9a"/>
<path d="M2,-8 V-11 M-4,-6 L-6,-9 M8,-6 L10,-9 M10,1 H13 M8,8 L10,11 M2,10 V13 M-4,8 L-6,11" stroke="#f28a1f" stroke-width="1.3"/>
</g>
<g transform="translate(593,733)">
<circle r="16" fill="#fdf0de" stroke="#efcf9f"/>
<circle cx="2" cy="1" r="6.5" fill="#f28a1f"/><rect x="-6" y="-2" width="4" height="6" fill="#f28a1f"/><rect x="-9" y="-2" width="3" height="6" fill="#9a9a9a"/>
<path d="M2,-8 V-11 M-4,-6 L-6,-9 M8,-6 L10,-9 M10,1 H13 M8,8 L10,11 M2,10 V13 M-4,8 L-6,11" stroke="#f28a1f" stroke-width="1.3"/>
</g>
<text x="0" y="0" font-size="16" font-weight="bold" fill="#e31e25" transform="translate(746,861) rotate(90)" text-anchor="middle" dy="6">V</text>
<text x="747" y="878" font-size="14" font-weight="bold" fill="#e31e25" text-anchor="middle">+</text>
<text x="0" y="0" font-size="16" font-weight="bold" fill="#1f55a5" transform="translate(798,858) rotate(90)" text-anchor="middle" dy="6">V</text>
<text x="800" y="872" font-size="14" font-weight="bold" fill="#1f55a5" text-anchor="middle">-</text>
<g transform="translate(752,876)">
<rect x="0" y="0" width="51" height="52" rx="5" fill="#e9e9e9" stroke="#cfcfcf"/>
<rect x="5" y="5" width="41" height="42" rx="3" fill="#f4f4f4" stroke="#dcdcdc"/>
<path d="M10,16 Q10,7 25.5,7 Q41,7 41,16 V30 Q41,42 25.5,42 Q10,42 10,30 Z" fill="url(#pg)" stroke="#c6c6c6"/>
<rect x="21" y="-7" width="9" height="14" fill="#b8b8b8"/>
</g>
<text x="618" y="897" font-size="25" font-weight="bold" fill="#222" textLength="112" lengthAdjust="spacingAndGlyphs">DC 7-48V</text>
<text x="603" y="922" font-size="25" font-weight="bold" fill="#222" textLength="142" lengthAdjust="spacingAndGlyphs">/AC 12-36V</text>
</svg>
</body></html>
